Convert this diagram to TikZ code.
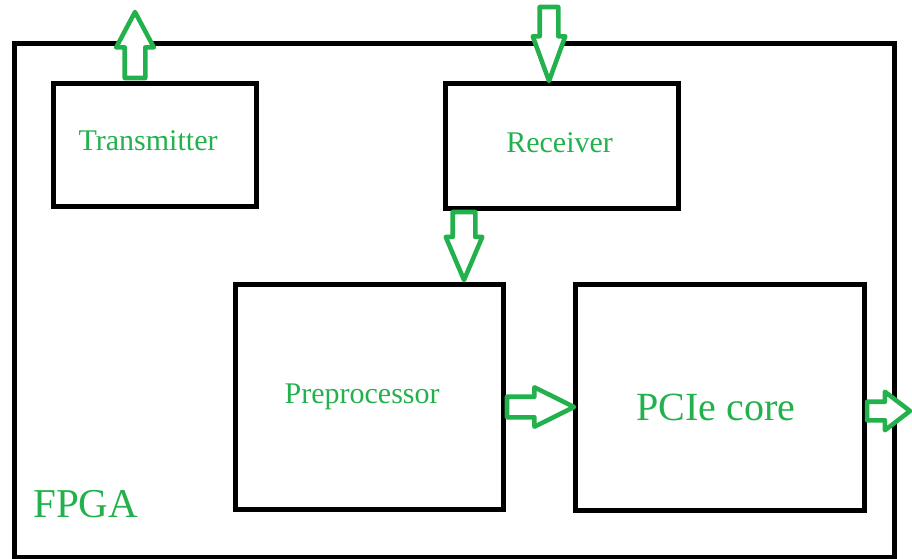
\documentclass[tikz,border=0pt]{standalone}
\usepackage{fontspec}
\setmainfont{Liberation Serif}
\usetikzlibrary{shapes.arrows, positioning}
\definecolor{paintGreen}{RGB}{34,177,76}
\tikzset{
    board/.style={draw=black, line width=3.75pt, inner sep=0pt, outer sep=0pt},
    block/.style={board, align=center, text=paintGreen,
                  font=\fontsize{22.5}{27}\selectfont},
    boardlabel/.style={text=paintGreen, inner sep=0pt,
                       font=\fontsize{30.75}{36}\selectfont},
    blockarrow/.style={single arrow, draw=paintGreen, line width=3.4pt,
                       line join=round, fill=white, outer sep=0pt, anchor=tip},
}

\begin{document}
\begin{tikzpicture}[x=0.75pt, y=-0.75pt]
\useasboundingbox (0,0) rectangle (912,559);

% FPGA board
\node[board, minimum width=660pt, minimum height=384.75pt] (fpga) at (454,300.5) {};
\node[boardlabel, anchor=base west] (fpgalabel) at (33,517) {FPGA};

% blocks
\node[block, minimum width=152.6pt, minimum height=92.25pt, text depth=6pt] (transmitter) at (154.75,145) {\kern-10pt Transmitter};
\node[block, minimum width=174.4pt, minimum height=93.4pt, text depth=6pt]  (receiver)    at (562.25,146.25) {\kern-4pt Receiver};
\node[block, minimum width=201pt, minimum height=168.4pt]   (preproc)     at (369.5,396.75) {\kern-11pt Preprocessor};
\node[block, minimum width=216.4pt, minimum height=169.5pt, text height=35pt,
      font=\fontsize{30}{35}\selectfont] (pcie) at (719.75,397.5) {\kern-6pt PCIe core};

% data flow
\node[blockarrow, shape border rotate=90, minimum height=49.5pt, minimum width=24.75pt,
      inner sep=6pt, single arrow head extend=6.4pt, single arrow tip angle=56] (txout) at (135,12) {};
\node[blockarrow, shape border rotate=270, minimum height=55.5pt, minimum width=21pt,
      inner sep=5.25pt, single arrow head extend=5.25pt, single arrow tip angle=40] (rxin) at (549,81) {};
\node[blockarrow, shape border rotate=270, minimum height=51pt, minimum width=24pt,
      inner sep=6.75pt, single arrow head extend=5.25pt, single arrow tip angle=46] (rxpre) at (464,280) {};
\node[blockarrow, minimum height=50.25pt, minimum width=26.25pt,
      inner sep=6pt, single arrow head extend=7.1pt, single arrow tip angle=53] (prepcie) at (574,407) {};
\node[blockarrow, minimum height=32.25pt, minimum width=25.5pt,
      inner sep=5.25pt, single arrow head extend=7.5pt, single arrow tip angle=75] (pcieout) at (910,411) {};

\end{tikzpicture}
\end{document}
